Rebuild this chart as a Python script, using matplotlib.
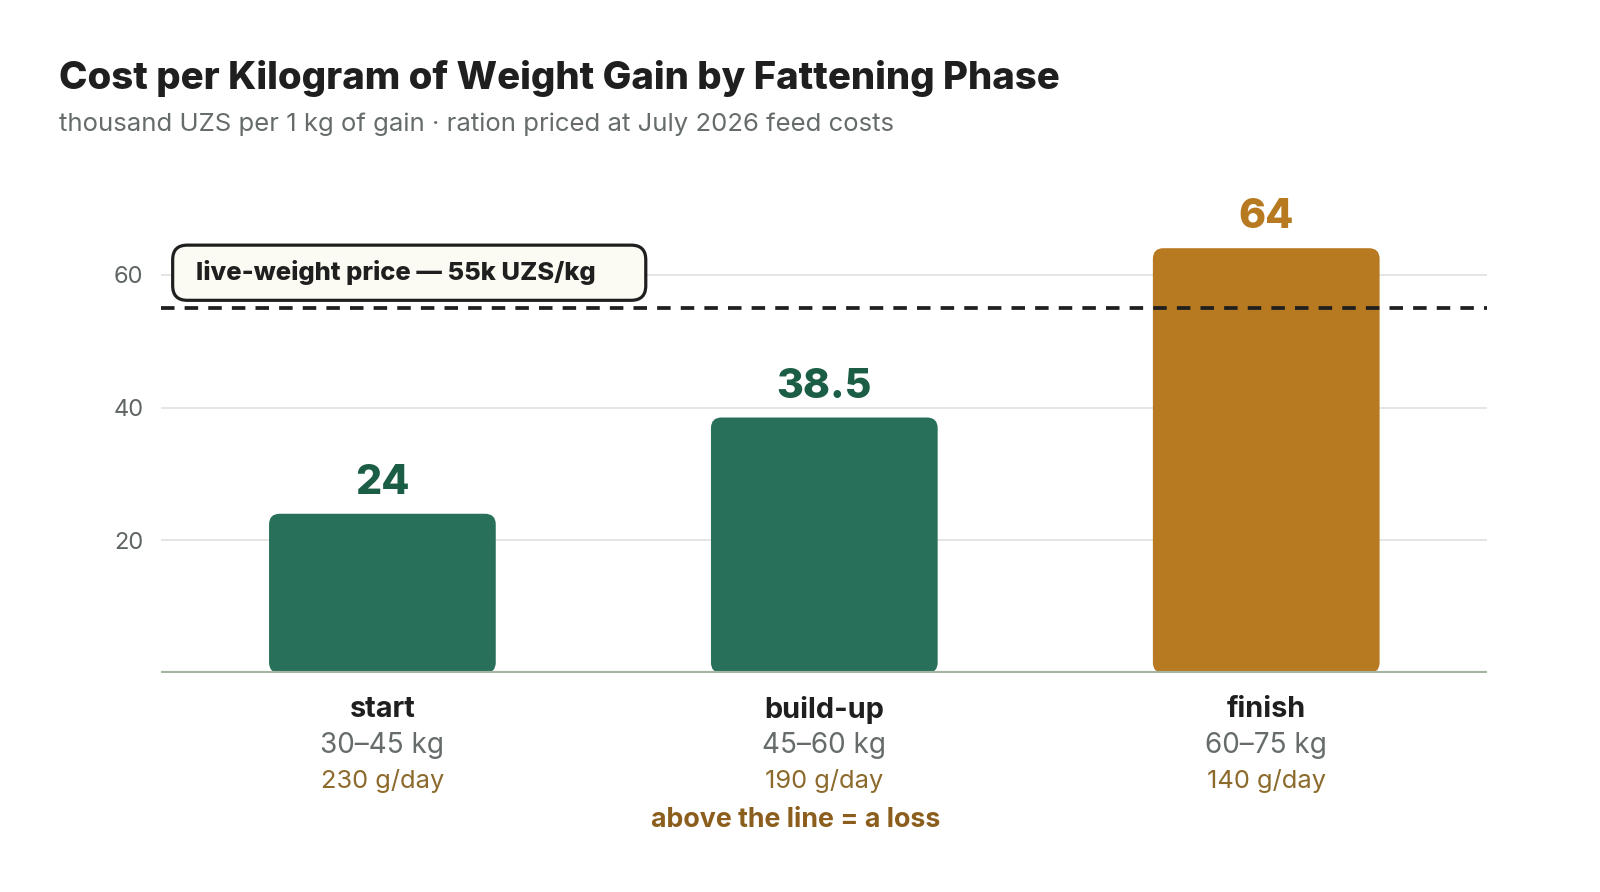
import matplotlib
matplotlib.use("Agg")
import matplotlib.pyplot as plt
from matplotlib.patches import FancyBboxPatch

# donnees
phases = ["start", "build-up", "finish"]
weight_ranges = ["30\u201345 kg", "45\u201360 kg", "60\u201375 kg"]
daily_gain = ["230 g/day", "190 g/day", "140 g/day"]
cost = [24, 38.5, 64]
value_labels = ["24", "38.5", "64"]
price_line = 55
yticks = [20, 40, 60]

green = "#28705a"
green_dark = "#1b5e45"
gold = "#b87a20"
bar_colors = [green, green, gold]
label_colors = [green_dark, green_dark, gold]

plt.rcParams["font.family"] = ["Inter", "DejaVu Sans"]

fig = plt.figure(figsize=(16, 8.92), dpi=100)
ax = fig.add_axes([0.1009, 0.2454, 0.8286, 0.5359])
ax.set_xlim(-0.5, 2.5)
ax.set_ylim(0, 72)

# barres arrondies
w = 0.513
aspect = 441.8 / 6.64
for i, v in enumerate(cost):
    p = FancyBboxPatch((i - w / 2, 0), w, v,
                       boxstyle="round,pad=0,rounding_size=0.024",
                       mutation_aspect=aspect,
                       fc=bar_colors[i], ec="none", zorder=2)
    ax.add_patch(p)
    ax.annotate(value_labels[i], (i, v), xytext=(0, 8.5), textcoords="offset points",
                ha="center", va="bottom", fontsize=29.5, fontweight="heavy",
                color=label_colors[i], zorder=4)

for t in yticks:
    ax.axhline(t, color="#e3e3de", lw=1.3, zorder=1)
ax.axhline(0, color="#a4b5a2", lw=3, zorder=3)
ax.axhline(price_line, color="#1f1f1f", lw=2.7, dashes=(3.6, 2.7), zorder=5)

ax.set_yticks(yticks)
ax.set_yticklabels([str(t) for t in yticks])
ax.tick_params(axis="y", length=0, pad=13, labelsize=17, labelcolor="#5f6662")
ax.set_xticks([])
for s in ax.spines.values():
    s.set_visible(False)

# etiquette de la ligne de prix
box = FancyBboxPatch((-0.4746, 56.15), 1.0706, 8.31,
                     boxstyle="round,pad=0,rounding_size=0.033",
                     mutation_aspect=aspect,
                     fc="#fbfaf3", ec="#1f1f1f", lw=2.3, zorder=6)
ax.add_patch(box)
ax.text(-0.421, 60.3, "live-weight price \u2014 55k UZS/kg",
        ha="left", va="center", fontsize=18.4, fontweight="heavy", color="#1f1f1f",
        zorder=7)

# etiquettes des categories
for i in range(len(phases)):
    ax.text(i, -3.4, phases[i], ha="center", va="top",
            fontsize=20.8, fontweight="bold", color="#1f1f1f")
    ax.text(i, -8.8, weight_ranges[i], ha="center", va="top",
            fontsize=20.1, color="#666d69")
    ax.text(i, -14.5, daily_gain[i], ha="center", va="top",
            fontsize=18.3, color="#8c6a2c")
ax.text(1 - 0.065, -20.2, "above the line = a loss", ha="center", va="top",
        fontsize=19.3, fontweight="bold", color="#8c5e1e")

fig.text(59.2 / 1600, 1 - 78.5 / 892, "Cost per Kilogram of Weight Gain by Fattening Phase",
         ha="left", va="center", fontsize=27.6, fontweight="heavy", color="#1f1f1f")
fig.text(59.2 / 1600, 1 - 124.6 / 892,
         "thousand UZS per 1 kg of gain \u00b7 ration priced at July 2026 feed costs",
         ha="left", va="center", fontsize=18.5, color="#666d69")

fig.savefig("out.png", dpi=100, facecolor="white")
